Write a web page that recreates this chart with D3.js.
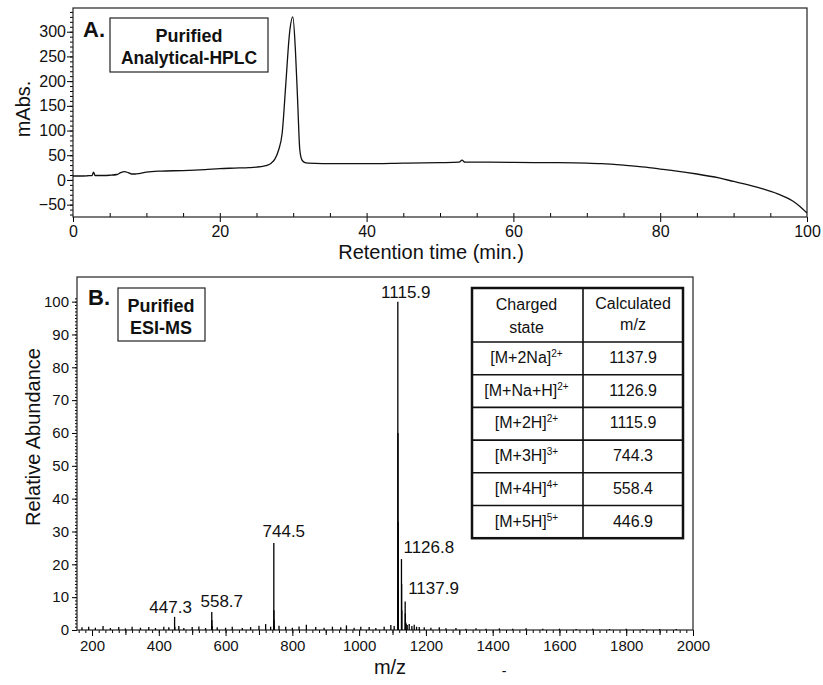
<!DOCTYPE html>
<html lang="en">
<head>
<meta charset="UTF-8">
<title>Purified HPLC / ESI-MS</title>
<script src="https://cdn.jsdelivr.net/npm/d3@7"></script>
<style>
  body { margin: 0; background: #fff; }
  text { font-family: Arial, "Liberation Sans", sans-serif; fill: #111; }
</style>
</head>
<body>
<svg id="fig" width="823" height="685"></svg>
<script>
// ---- panel A: analytical HPLC trace
var hplcTime = [0, 1, 2, 2.6, 2.8, 3.0, 4, 5, 6, 6.5, 7, 7.5, 8, 8.5, 9, 10, 12, 15, 18, 20, 22, 24, 25, 26, 26.5, 27, 27.5, 28, 28.5, 29, 29.5, 29.95, 30.3, 30.6, 30.9, 31.2, 31.6, 32, 34, 36, 40, 45, 50, 52.6, 53, 53.4, 54, 56, 60, 65, 70, 72, 75, 78, 80, 82, 85, 88, 90, 92, 94, 96, 98, 99, 100];
var hplcAbs  = [8, 8, 8.5, 9, 16, 9, 9, 9.5, 11, 15, 17, 15, 12, 12, 13, 16, 18, 19, 21, 23, 24, 25, 26, 28, 30, 34, 42, 60, 95, 196, 297, 330, 263, 162, 61, 40, 35, 34, 33, 33, 33, 34, 35, 36, 40, 36, 36, 36, 35.5, 35, 34, 33, 30, 26, 22, 18.5, 12, 4, -3, -10, -18, -28, -42, -53, -67];
var hplcYTicks = [-50, 0, 50, 100, 150, 200, 250, 300];
var hplcXTicks = [0, 20, 40, 60, 80, 100];

// ---- panel B: ESI-MS stick spectrum
var msMz = [447.3, 448.0, 558.7, 559.1, 559.6, 744.5, 744.8, 745.2, 745.8, 1115.9, 1116.4, 1116.9, 1117.4, 1126.8, 1127.3, 1127.8, 1137.9, 1138.4, 1138.9, 1141, 1144,
  170, 190, 210, 233, 255, 280, 300, 320, 345, 370, 390, 415, 430, 460, 475, 500, 520, 540, 575, 600, 620, 650, 675, 700, 720, 735, 760, 780, 800, 820, 842, 870, 895, 920, 945, 962, 985, 1005, 1030, 1050, 1075, 1095, 1105, 1150, 1158, 1165, 1172, 1180, 1195, 1215, 1240, 1260, 1290, 1320, 1350, 1380, 1420, 1460, 1500, 1550, 1600, 1650, 1700, 1750, 1800, 1850, 1900, 1950];
var msAbund = [4.0, 1.0, 5.5, 3.0, 1.2, 26.5, 6.0, 3.0, 1.2, 100, 60, 33, 12, 21.6, 14, 6, 8.7, 5, 2.5, 2, 1.5,
  0.8, 1.0, 0.7, 1.2, 0.6, 0.9, 0.5, 1.0, 0.7, 0.9, 0.6, 1.0, 0.8, 1.2, 0.6, 0.9, 1.1, 0.6, 0.8, 0.7, 1.0, 0.6, 0.9, 1.3, 1.8, 1.0, 1.3, 1.0, 0.7, 1.1, 1.6, 0.9, 0.7, 1.0, 0.8, 1.4, 0.7, 1.0, 0.9, 0.6, 1.0, 1.5, 1.2, 1.8, 1.2, 1.6, 1.0, 0.9, 0.8, 0.7, 0.8, 0.5, 0.6, 0.4, 0.5, 0.4, 0.5, 0.4, 0.5, 0.4, 0.4, 0.3, 0.4, 0.3, 0.4, 0.3, 0.3, 0.3];
var labelMz   = [447.3, 558.7, 744.5, 1115.9, 1126.8, 1137.9];
var labelAb   = [4.0, 5.5, 26.5, 100, 21.6, 8.7];
var msXTicks = [200, 400, 600, 800, 1000, 1200, 1400, 1600, 1800, 2000];
var msYTicks = [0, 10, 20, 30, 40, 50, 60, 70, 80, 90, 100];

// ---- table
var chargedState = ["[M+2Na]", "[M+Na+H]", "[M+2H]", "[M+3H]", "[M+4H]", "[M+5H]"];
var chargeSup    = ["2+", "2+", "2+", "3+", "4+", "5+"];
var calcMz       = ["1137.9", "1126.9", "1115.9", "744.3", "558.4", "446.9"];

var svg = d3.select("#fig");
svg.append("rect").attr("width", 823).attr("height", 685).attr("fill", "#fff");

// ================= Panel A =================
var ax = d3.scaleLinear().domain([0, 100]).range([73, 807]);
var ay = d3.scaleLinear().domain([-75, 348]).range([217, 8]);
var gA = svg.append("g");

// minor ticks
gA.append("g").attr("transform", "translate(73,0)")
  .call(d3.axisLeft(ay).tickValues(d3.range(-70, 341, 10)).tickSize(3).tickFormat(""))
  .call(g => g.select(".domain").remove());
gA.append("g").attr("transform", "translate(0,217)")
  .call(d3.axisBottom(ax).tickValues(d3.range(5, 100, 5)).tickSize(-4).tickFormat(""))
  .call(g => g.select(".domain").remove());
// major ticks
gA.append("g").attr("transform", "translate(73,0)")
  .call(d3.axisLeft(ay).tickValues(hplcYTicks).tickSize(6).tickPadding(1))
  .call(g => g.select(".domain").remove())
  .selectAll("text").style("font-size", "16px");
gA.append("g").attr("transform", "translate(0,217)")
  .call(d3.axisBottom(ax).tickValues(hplcXTicks).tickSize(5).tickPadding(4))
  .call(g => g.select(".domain").remove())
  .selectAll("text").style("font-size", "16px");

gA.append("rect").attr("x", 73).attr("y", 8).attr("width", 734).attr("height", 209)
  .attr("fill", "none").attr("stroke", "#222").attr("stroke-width", 1.2);

var hplcLine = d3.line()
  .x((d, i) => ax(hplcTime[i]))
  .y(d => ay(d))
  .curve(d3.curveMonotoneX);
gA.append("path").datum(hplcAbs).attr("d", hplcLine)
  .attr("fill", "none").attr("stroke", "#111").attr("stroke-width", 1.3);

gA.append("text").attr("x", 431).attr("y", 259).attr("text-anchor", "middle")
  .style("font-size", "20px").text("Retention time (min.)");
gA.append("text").attr("transform", "translate(30,109) rotate(-90)").attr("text-anchor", "middle")
  .style("font-size", "20px").text("mAbs.");
gA.append("text").attr("x", 83).attr("y", 37).style("font-size", "22px").style("font-weight", "bold").text("A.");
gA.append("rect").attr("x", 110).attr("y", 18).attr("width", 158).attr("height", 54)
  .attr("fill", "#fff").attr("stroke", "#222").attr("stroke-width", 1.2);
gA.append("text").attr("x", 189).attr("y", 42).attr("text-anchor", "middle")
  .style("font-size", "18px").style("font-weight", "bold").text("Purified");
gA.append("text").attr("x", 189).attr("y", 64).attr("text-anchor", "middle")
  .style("font-size", "17.5px").style("font-weight", "bold").text("Analytical-HPLC");

// ================= Panel B =================
var bx = d3.scaleLinear().domain([155, 2000]).range([77, 693]);
var by = d3.scaleLinear().domain([0, 107.5]).range([630, 277]);
var gB = svg.append("g");

gB.append("g").attr("transform", "translate(77,0)")
  .call(d3.axisLeft(by).tickValues(d3.range(1, 102, 1)).tickSize(2).tickFormat(""))
  .call(g => g.select(".domain").remove());
gB.append("g").attr("transform", "translate(0,630)")
  .call(d3.axisBottom(bx).tickValues(d3.range(160, 2000, 20)).tickSize(3).tickFormat(""))
  .call(g => g.select(".domain").remove());
gB.append("g").attr("transform", "translate(0,630)")
  .call(d3.axisBottom(bx).tickValues(d3.range(300, 2000, 200)).tickSize(5).tickFormat(""))
  .call(g => g.select(".domain").remove());
gB.append("g").attr("transform", "translate(77,0)")
  .call(d3.axisLeft(by).tickValues(msYTicks).tickSize(5).tickPadding(3))
  .call(g => g.select(".domain").remove())
  .selectAll("text").style("font-size", "15px");
gB.append("g").attr("transform", "translate(0,630)")
  .call(d3.axisBottom(bx).tickValues(msXTicks).tickFormat(d3.format("d")).tickSize(6).tickPadding(4))
  .call(g => g.select(".domain").remove())
  .selectAll("text").style("font-size", "15px");

gB.append("rect").attr("x", 77).attr("y", 277).attr("width", 616).attr("height", 353)
  .attr("fill", "none").attr("stroke", "#222").attr("stroke-width", 1.2);

gB.append("g").selectAll("line").data(msMz).enter().append("line")
  .attr("x1", d => bx(d)).attr("x2", d => bx(d))
  .attr("y1", by(0))
  .attr("y2", (d, i) => by(msAbund[i]))
  .attr("stroke", "#000").attr("stroke-width", 1.3);

// peak labels
var lblDx = [-4, 10, 10, 8, 2, 3];
var lblDy = [-4, -5, -6, -4, -6, -7];
var lblAnchor = ["middle", "middle", "middle", "middle", "start", "start"];
gB.append("g").selectAll("text").data(labelMz).enter().append("text")
  .attr("x", (d, i) => bx(d) + lblDx[i])
  .attr("y", (d, i) => by(labelAb[i]) + lblDy[i])
  .attr("text-anchor", (d, i) => lblAnchor[i])
  .style("font-size", "17px")
  .text(d => d.toFixed(1));

gB.append("text").attr("x", 390).attr("y", 674).attr("text-anchor", "middle")
  .style("font-size", "20px").text("m/z");
gB.append("text").attr("x", 504).attr("y", 676).attr("text-anchor", "middle")
  .style("font-size", "14px").text("-");
gB.append("text").attr("transform", "translate(40,437) rotate(-90)").attr("text-anchor", "middle")
  .style("font-size", "20px").text("Relative Abundance");
gB.append("text").attr("x", 88).attr("y", 305).style("font-size", "22px").style("font-weight", "bold").text("B.");
gB.append("rect").attr("x", 118).attr("y", 288).attr("width", 87).attr("height", 53)
  .attr("fill", "#fff").attr("stroke", "#222").attr("stroke-width", 1.2);
gB.append("text").attr("x", 161).attr("y", 312).attr("text-anchor", "middle")
  .style("font-size", "18px").style("font-weight", "bold").text("Purified");
gB.append("text").attr("x", 161).attr("y", 334).attr("text-anchor", "middle")
  .style("font-size", "18px").style("font-weight", "bold").text("ESI-MS");

// ---- table
var tX0 = 472, tX1 = 583, tX2 = 683, tY0 = 288, headH = 54, rowH = 32.7;
var tbl = gB.append("g");
tbl.append("rect").attr("x", tX0).attr("y", tY0).attr("width", tX2 - tX0)
  .attr("height", headH + rowH * chargedState.length)
  .attr("fill", "#fff").attr("stroke", "#111").attr("stroke-width", 2.5);
tbl.append("line").attr("x1", tX1).attr("x2", tX1).attr("y1", tY0)
  .attr("y2", tY0 + headH + rowH * chargedState.length).attr("stroke", "#111").attr("stroke-width", 1.6);
tbl.selectAll("line.row").data(chargedState).enter().append("line").attr("class", "row")
  .attr("x1", tX0).attr("x2", tX2)
  .attr("y1", (d, i) => tY0 + headH + rowH * i).attr("y2", (d, i) => tY0 + headH + rowH * i)
  .attr("stroke", "#111").attr("stroke-width", 1.6);
var c1 = (tX0 + tX1) / 2 - 1, c2 = (tX1 + tX2) / 2;
tbl.append("text").attr("x", c1).attr("y", tY0 + 22).attr("text-anchor", "middle").style("font-size", "16px").text("Charged");
tbl.append("text").attr("x", c1).attr("y", tY0 + 45).attr("text-anchor", "middle").style("font-size", "16px").text("state");
tbl.append("text").attr("x", c2).attr("y", tY0 + 21).attr("text-anchor", "middle").style("font-size", "16px").text("Calculated");
tbl.append("text").attr("x", c2).attr("y", tY0 + 42).attr("text-anchor", "middle").style("font-size", "16px").text("m/z");
var st = tbl.selectAll("text.st").data(chargedState).enter().append("text").attr("class", "st")
  .attr("x", c1).attr("y", (d, i) => tY0 + headH + rowH * i + 21)
  .attr("text-anchor", "middle").style("font-size", "16px");
st.append("tspan").text(d => d);
st.append("tspan").attr("dy", -6).style("font-size", "10px").text((d, i) => chargeSup[i]);
tbl.selectAll("text.mz").data(calcMz).enter().append("text").attr("class", "mz")
  .attr("x", c2).attr("y", (d, i) => tY0 + headH + rowH * i + 21)
  .attr("text-anchor", "middle").style("font-size", "16px").text(d => d);
</script>
</body>
</html>
